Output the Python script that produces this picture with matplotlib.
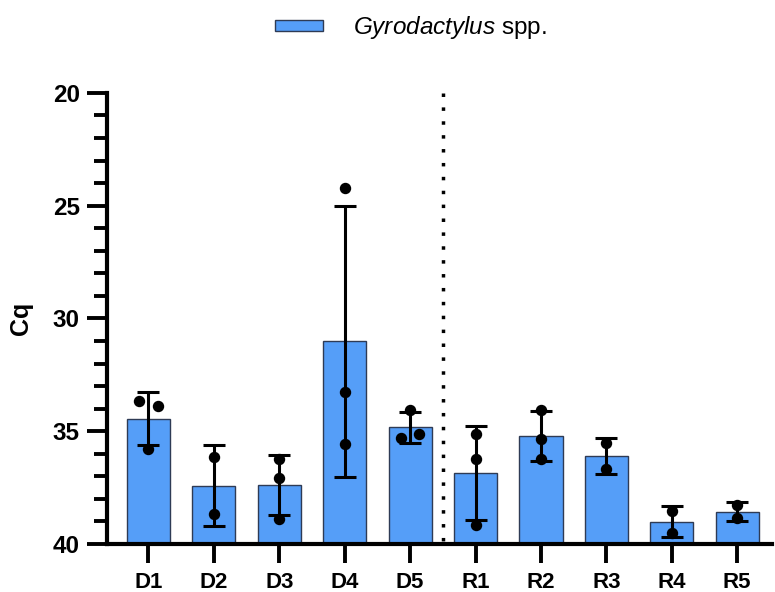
import matplotlib
matplotlib.use('Agg')
import matplotlib.pyplot as plt
from matplotlib.ticker import MultipleLocator
import numpy as np

plt.rcParams['font.family'] = ['Liberation Sans', 'DejaVu Sans']
plt.rcParams['mathtext.fontset'] = 'custom'
plt.rcParams['mathtext.it'] = 'Liberation Sans:italic'
plt.rcParams['mathtext.rm'] = 'Liberation Sans'

# Cq values per sample (replicates)
groups = ['D1', 'D2', 'D3', 'D4', 'D5', 'R1', 'R2', 'R3', 'R4', 'R5']
cq = [
    [33.64, 33.90, 35.79],
    [36.13, 38.68],
    [36.25, 37.05, 38.87],
    [24.21, 33.26, 35.57],
    [34.04, 35.32, 35.10],
    [35.13, 36.25, 39.17],
    [34.06, 35.36, 36.25],
    [35.52, 36.67],
    [38.53, 39.50],
    [38.27, 38.86],
]
legend_label = r'$\it{Gyrodactylus}$ spp.'

# horizontal spread for overlapping replicate dots
spread = [
    [-0.14, 0.14, 0.0],
    [0.0, 0.0],
    [0.0, 0.0, 0.0],
    [0.0, 0.0, 0.0],
    [0.0, -0.14, 0.14],
    [0.0, 0.0, 0.0],
    [0.0, 0.0, 0.0],
    [0.0, 0.0],
    [0.0, 0.0],
    [0.0, 0.0],
]

means = np.array([np.mean(v) for v in cq])
sds = np.array([np.std(v, ddof=1) for v in cq])
x = np.arange(len(groups))
base = 40

fig = plt.figure(figsize=(7.75, 5.92), dpi=100)
ax = fig.add_axes([0.138, 0.081, 0.858, 0.762])

bar_color = '#559EF8'
ax.bar(x, means - base, bottom=base, width=0.66, color=bar_color,
       edgecolor='#2E3B55', linewidth=1.0, label=legend_label, zorder=2)
ax.errorbar(x, means, yerr=sds, fmt='none', ecolor='black', elinewidth=2.2,
            capsize=8, capthick=2.2, zorder=3)
for i, vals in enumerate(cq):
    ax.plot(x[i] + np.array(spread[i]), vals, 'o', color='black',
            markersize=7.2, zorder=4, clip_on=False)

# separator between D and R samples
ax.plot([4.5, 4.5], [20, 40], color='black', linewidth=2.5,
        dashes=(1, 3), zorder=1)

ax.set_xlim(-0.635, 9.53)
ax.set_ylim(40, 20)
ax.yaxis.set_major_locator(MultipleLocator(5))
ax.yaxis.set_minor_locator(MultipleLocator(1))
ax.set_xticks(x)
ax.set_xticklabels(groups)

for side in ['top', 'right']:
    ax.spines[side].set_visible(False)
for side in ['left', 'bottom']:
    ax.spines[side].set_linewidth(3.0)

ax.tick_params(axis='y', which='major', direction='out', length=14.5,
               width=2.8, labelsize=17.5, pad=5)
ax.tick_params(axis='y', which='minor', direction='out', length=9.5, width=2.8)
ax.tick_params(axis='x', which='major', direction='out', length=14,
               width=2.8, labelsize=16, pad=6)
for lbl in ax.get_xticklabels() + ax.get_yticklabels():
    lbl.set_fontweight('bold')

ax.set_ylabel('Cq', fontsize=18, fontweight='bold')
ax.yaxis.set_label_coords(-0.111, 0.5)

fig.legend(loc='center', bbox_to_anchor=(0.53, 0.953), frameon=False,
           fontsize=17.5, handlelength=1.97, handleheight=0.33,
           handletextpad=1.23)

fig.savefig('out.png', dpi=100)
